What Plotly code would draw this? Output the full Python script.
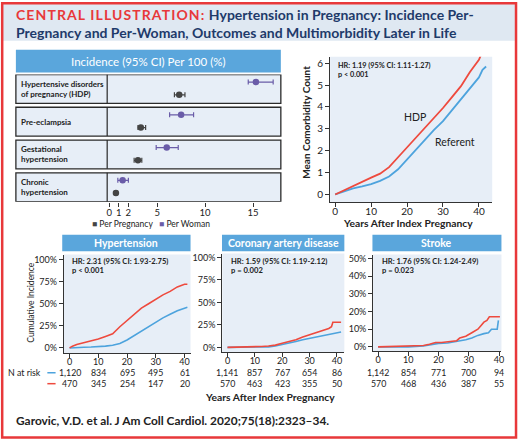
import plotly.graph_objects as go

W, H = 523, 440
def fx(p): return p / W
def fy(p): return 1 - p / H

FONT = "Lato"
RED = "#ee4a3e"
BLUE = "#4da3dd"
HEAD = "#5aa6dc"
BG = "#e7eef7"
NAVY = "#1e3a6a"
TXT = "#222222"
PURPLE = "#6a5ca8"
GRAY = "#444444"

# ---------------- data ----------------
categories = ["Hypertensive disorders<br>of pregnancy (HDP)", "Pre-eclampsia",
              "Gestational<br>hypertension", "Chronic<br>hypertension"]
per_woman = [15.3, 7.5, 6.0, 1.4]
per_woman_lo = [14.5, 6.3, 4.9, 0.9]
per_woman_hi = [17.1, 8.8, 7.2, 2.0]
per_preg = [7.3, 3.3, 3.0, 0.7]
per_preg_lo = [6.8, 3.0, 2.6, 0.55]
per_preg_hi = [7.9, 3.8, 3.4, 0.85]
forest_ticks = [0, 1, 2, 5, 10, 15]

comorb_hdp_x = [0, 2.5, 5, 7.5, 10, 12.5, 15, 17.5, 20, 22.5, 25, 27.5, 30, 32.5, 35, 37.5, 40, 40.5]
comorb_hdp_y = [0, 0.2, 0.4, 0.6, 0.77, 0.95, 1.25, 1.7, 2.15, 2.6, 3.0, 3.5, 3.95, 4.45, 4.95, 5.6, 6.15, 6.35]
comorb_ref_x = [0, 2.5, 5, 7.5, 10, 12.5, 15, 17.5, 20, 22.5, 25, 27.5, 30, 32.5, 35, 37.5, 40, 41, 42]
comorb_ref_y = [0, 0.15, 0.28, 0.37, 0.47, 0.62, 0.82, 1.15, 1.6, 2.05, 2.5, 2.95, 3.35, 3.85, 4.3, 4.8, 5.35, 5.7, 5.85]

htn_x = [0, 1, 2.5, 5, 7.5, 10, 12.5, 15, 17.5, 20, 22.5, 25, 27.5, 30, 32.5, 35, 37.5, 40, 41]
htn_hdp = [0, 0.02, 0.04, 0.06, 0.08, 0.10, 0.13, 0.16, 0.24, 0.31, 0.38, 0.45, 0.50, 0.55, 0.60, 0.64, 0.69, 0.72, 0.72]
htn_ref = [0, 0, 0.005, 0.008, 0.01, 0.012, 0.02, 0.03, 0.05, 0.09, 0.14, 0.19, 0.24, 0.29, 0.34, 0.38, 0.42, 0.45, 0.46]

cad_hdp_x = [0, 5, 10, 12.5, 15, 17.5, 20, 22.5, 25, 27.5, 30, 32.5, 35, 37, 38, 38.5, 39.5, 41.5]
cad_hdp = [0, 0.002, 0.008, 0.01, 0.015, 0.025, 0.045, 0.065, 0.085, 0.115, 0.14, 0.16, 0.19, 0.21, 0.23, 0.28, 0.28, 0.28]
cad_ref_x = [0, 10, 15, 17.5, 20, 22.5, 25, 27.5, 30, 32.5, 35, 37.5, 40, 41.5]
cad_ref = [0, 0, 0.005, 0.015, 0.03, 0.045, 0.065, 0.085, 0.10, 0.115, 0.13, 0.15, 0.16, 0.17]

stk_hdp_x = [0, 10, 15, 17, 19, 21, 23, 26, 27, 29, 31, 33, 34, 35, 36, 36.8, 40.3]
stk_hdp = [0, 0.003, 0.008, 0.015, 0.025, 0.025, 0.03, 0.035, 0.05, 0.06, 0.08, 0.10, 0.12, 0.14, 0.15, 0.17, 0.17]
stk_ref_x = [0, 10, 15, 18, 20, 23, 26, 29, 31, 33, 35, 36.5, 37.5, 39.4, 39.8]
stk_ref = [0, 0, 0.005, 0.012, 0.02, 0.022, 0.03, 0.04, 0.05, 0.065, 0.075, 0.08, 0.10, 0.10, 0.15]

years_ticks = [0, 10, 20, 30, 40]
risk_htn = [["1,120", "834", "695", "495", "61"], ["470", "345", "254", "147", "20"]]
risk_cad = [["1,141", "857", "767", "654", "86"], ["570", "463", "423", "355", "50"]]
risk_stk = [["1,142", "854", "771", "700", "94"], ["570", "468", "436", "387", "55"]]

panels = [
    dict(title="Hypertension", hr="HR: 2.31 (95% CI: 1.93-2.75)", p="p < 0.001",
         hx=htn_x, hy=htn_hdp, rx=htn_x, ry=htn_ref, risk=risk_htn,
         box=(63.3, 191, 254.3, 353.3), head=(61.7, 191), xr=[-2.0, 42.1], yr=[-0.056, 1.056],
         yt=[0, 0.25, 0.5, 0.75, 1.0], ytt=["0%", "25%", "50%", "75%", "100%"]),
    dict(title="Coronary artery disease", hr="HR: 1.59 (95% CI: 1.19-2.12)", p="p = 0.002",
         hx=cad_hdp_x, hy=cad_hdp, rx=cad_ref_x, ry=cad_ref, risk=risk_cad,
         box=(223, 346, 253.3, 352.7), head=(222.7, 346), xr=[-1.9, 42.7], yr=[-0.055, 1.044],
         yt=[0, 0.25, 0.5, 0.75, 1.0], ytt=["0%", "25%", "50%", "75%", "100%"]),
    dict(title="Stroke", hr="HR: 1.76 (95% CI: 1.24-2.49)", p="p = 0.023",
         hx=stk_hdp_x, hy=stk_hdp, rx=stk_ref_x, ry=stk_ref, risk=risk_stk,
         box=(375, 504.3, 254.3, 351.7), head=(374.3, 504.3), xr=[-1.64, 40.8], yr=[-0.025, 0.522],
         yt=[0, 0.1, 0.2, 0.3, 0.4, 0.5], ytt=["0%", "10%", "20%", "30%", "40%", "50%"]),
]

fig = go.Figure()
shapes = []
ann = []

def A(text, x, y, size, color=TXT, xref="paper", yref="paper", xanchor="center", yanchor="middle", **kw):
    d = dict(text=text, x=x, y=y, xref=xref, yref=yref, xanchor=xanchor, yanchor=yanchor,
             showarrow=False, font=dict(family=FONT, size=size, color=color))
    d.update(kw)
    ann.append(d)

# frame & title band
shapes.append(dict(type="rect", xref="paper", yref="paper", x0=fx(2), x1=fx(518), y0=fy(39), y1=fy(2),
                   fillcolor="#dfe8f2", line=dict(width=0), layer="below"))
shapes.append(dict(type="rect", xref="paper", yref="paper", x0=fx(1.2), x1=fx(519), y0=fy(438.6), y1=fy(1.2),
                   line=dict(color="#e8383a", width=2.5), fillcolor="rgba(0,0,0,0)"))
A("<b><span style='color:#e8383a;letter-spacing:1.1px'>CENTRAL ILLUSTRATION:</span> Hypertension in Pregnancy: Incidence Per-<br>"
  "Pregnancy and Per-Woman, Outcomes and Multimorbidity Later in Life</b>",
  fx(13), fy(21.5), 14, NAVY, xanchor="left", align="left")

# ---------------- forest plot ----------------
shapes.append(dict(type="rect", xref="paper", yref="paper", x0=fx(15), x1=fx(282), y0=fy(71), y1=fy(48),
                   fillcolor=HEAD, line=dict(width=0)))
A("Incidence (95% CI) Per 100 (%)", fx(148.5), fy(59.5), 11.5, "white")
for i, c in enumerate(categories):
    shapes.append(dict(type="rect", xref="paper", yref="y", x0=fx(15), x1=fx(282), y0=i - 0.44, y1=i + 0.44,
                       fillcolor=BG, line=dict(color="#2a2a2a", width=1.3), layer="below"))
    shapes.append(dict(type="line", xref="paper", yref="y", x0=fx(107), x1=fx(107), y0=i - 0.44, y1=i + 0.44,
                       line=dict(color="#2a2a2a", width=1.2), layer="below"))
    A("<b>" + c + "</b>", fx(18), i, 8.0, yref="y", xanchor="left", align="left")

yw = [i - 0.21 for i in range(len(categories))]
yp = [i + 0.18 for i in range(len(categories))]
fig.add_trace(go.Scatter(x=per_woman, y=yw, mode="markers", xaxis="x", yaxis="y",
                         marker=dict(color=PURPLE, size=6.5),
                         error_x=dict(type="data", symmetric=False,
                                      array=[h - v for h, v in zip(per_woman_hi, per_woman)],
                                      arrayminus=[v - l for v, l in zip(per_woman, per_woman_lo)],
                                      color=PURPLE, thickness=1.2, width=2.5), showlegend=False))
fig.add_trace(go.Scatter(x=per_preg, y=yp, mode="markers", xaxis="x", yaxis="y",
                         marker=dict(color=GRAY, size=6.5),
                         error_x=dict(type="data", symmetric=False,
                                      array=[h - v for h, v in zip(per_preg_hi, per_preg)],
                                      arrayminus=[v - l for v, l in zip(per_preg, per_preg_lo)],
                                      color=GRAY, thickness=1.2, width=2.5), showlegend=False))
A("<span style='color:#444444'>■</span> Per Pregnancy   <span style='color:#6a5ca8'>■</span> Per Woman",
  fx(151), fy(224), 8.5)

layout_axes = dict(
    xaxis=dict(domain=[fx(107), fx(282)], range=[-0.21, 17.9], tickvals=forest_ticks, ticks="outside",
               ticklen=4, tickcolor="#333", showgrid=False, zeroline=False, showline=False,
               ticklabelstandoff=-2,
               tickfont=dict(family=FONT, size=9.5, color=TXT), anchor="y"),
    yaxis=dict(domain=[fy(201), fy(73)], range=[3.44, -0.44], showticklabels=False, showgrid=False,
               zeroline=False, showline=False, ticks="", anchor="x"),
)

# ---------------- comorbidity ----------------
shapes.append(dict(type="rect", xref="paper", yref="paper", x0=fx(331.7), x1=fx(495), y0=fy(201.7), y1=fy(55),
                   fillcolor=BG, line=dict(width=0), layer="below"))
fig.add_trace(go.Scatter(x=comorb_ref_x, y=comorb_ref_y, mode="lines", xaxis="x2", yaxis="y2",
                         line=dict(color=BLUE, width=1.8), showlegend=False))
fig.add_trace(go.Scatter(x=comorb_hdp_x, y=comorb_hdp_y, mode="lines", xaxis="x2", yaxis="y2",
                         line=dict(color=RED, width=1.8), showlegend=False, cliponaxis=True))
axstyle = dict(showgrid=False, zeroline=False, showline=True, linecolor="#333", linewidth=1, ticks="outside",
               ticklen=4, tickcolor="#333")
layout_axes["xaxis2"] = dict(domain=[fx(331.7), fx(495)], range=[-1.4, 43.7], tickvals=years_ticks,
                             ticklabelstandoff=-4,
                             tickfont=dict(family=FONT, size=10, color=TXT), anchor="y2", **axstyle)
layout_axes["yaxis2"] = dict(domain=[fy(201.7), fy(55)], range=[-0.36, 6.3], tickvals=[0, 1, 2, 3, 4, 5, 6],
                             tickfont=dict(family=FONT, size=10, color=TXT), anchor="x2", **axstyle)
A("<b>HR: 1.19 (95% CI: 1.11-1.27)</b>", fx(337.7), fy(64), 7.3, xanchor="left")
A("<b>p < 0.001</b>", fx(337.7), fy(73.5), 7.3, xanchor="left")
A("HDP", fx(417), fy(116), 10.5)
A("Referent", fx(457), fy(140.5), 10.5)
A("<b>Mean Comorbidity Count</b>", fx(308), fy(121), 10, textangle=-90)
A("<b>Years After Index Pregnancy</b>", fx(410), fy(223), 10.3)

# ---------------- bottom panels ----------------
for k, pnl in enumerate(panels):
    n = k + 3
    xa, ya = f"x{n}", f"y{n}"
    x0, x1, yt, yb = pnl["box"]
    shapes.append(dict(type="rect", xref="paper", yref="paper", x0=fx(x0), x1=fx(x1), y0=fy(yb), y1=fy(yt),
                       fillcolor=BG, line=dict(width=0), layer="below"))
    hx0, hx1 = pnl["head"]
    shapes.append(dict(type="rect", xref="paper", yref="paper", x0=fx(hx0), x1=fx(hx1), y0=fy(251), y1=fy(234.3),
                       fillcolor=HEAD, line=dict(width=0)))
    A("<b>" + pnl["title"] + "</b>", fx((hx0 + hx1) / 2), fy(242.8), 10.5, "white")
    fig.add_trace(go.Scatter(x=pnl["rx"], y=pnl["ry"], mode="lines", xaxis=xa, yaxis=ya,
                             line=dict(color=BLUE, width=1.6), showlegend=False))
    fig.add_trace(go.Scatter(x=pnl["hx"], y=pnl["hy"], mode="lines", xaxis=xa, yaxis=ya,
                             line=dict(color=RED, width=1.6), showlegend=False))
    layout_axes["xaxis%d" % n] = dict(domain=[fx(x0), fx(x1)], range=pnl["xr"], tickvals=years_ticks,
                                      ticklabelstandoff=-4,
                                      tickfont=dict(family=FONT, size=9, color=TXT), anchor=ya, **axstyle)
    layout_axes["yaxis%d" % n] = dict(domain=[fy(yb), fy(yt)], range=pnl["yr"], tickvals=pnl["yt"],
                                      ticktext=pnl["ytt"], tickfont=dict(family=FONT, size=9, color=TXT),
                                      anchor=xa, **axstyle)
    A("<b>" + pnl["hr"] + "</b>", fx(x0 + 6.5), fy(261), 7.6, xanchor="left")
    A("<b>" + pnl["p"] + "</b>", fx(x0 + 6.5), fy(270), 7.6, xanchor="left")
    for r, ypix in enumerate([373.3, 384.3]):
        for xv, t in zip(years_ticks, pnl["risk"][r]):
            A(t, xv, fy(ypix), 8.8, xref=xa)

A("Cumulative Incidence", fx(30), fy(302), 8.5, textangle=-90)
A("N at risk", fx(42), fy(373.3), 8.8, xanchor="right")
A("<b>Years After Index Pregnancy</b>", fx(271), fy(397.5), 10.3)
A("<b>Garovic, V.D. et al. J Am Coll Cardiol. 2020;75(18):2323–34.</b>", fx(13), fy(421.5), 11.9,
  xanchor="left")
shapes.append(dict(type="line", xref="paper", yref="paper", x0=fx(46.7), x1=fx(55), y0=fy(373.3), y1=fy(373.3),
                   line=dict(color=BLUE, width=1.5)))
shapes.append(dict(type="line", xref="paper", yref="paper", x0=fx(46.7), x1=fx(55), y0=fy(384.3), y1=fy(384.3),
                   line=dict(color=RED, width=1.5)))

fig.update_layout(width=W, height=H, margin=dict(l=0, r=0, t=0, b=0), paper_bgcolor="white",
                  plot_bgcolor="rgba(0,0,0,0)", showlegend=False, shapes=shapes, annotations=ann,
                  font=dict(family=FONT, color=TXT), **layout_axes)
fig.write_html("out.html")
